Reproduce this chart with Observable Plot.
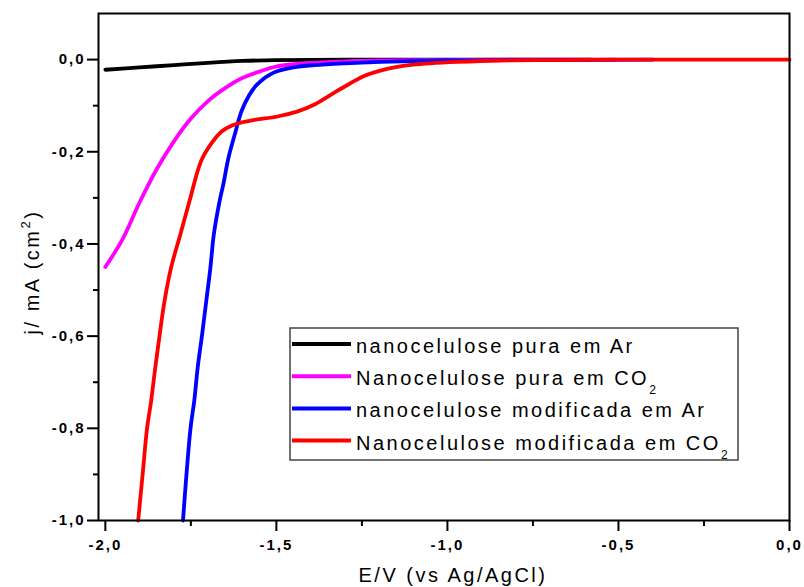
<!DOCTYPE html>
<html><head><meta charset="utf-8">
<script src="https://cdn.jsdelivr.net/npm/d3@7"></script>
<script src="https://cdn.jsdelivr.net/npm/@observablehq/plot@0.6"></script>
<style>
body{margin:0;background:#fff;}
#chart{position:relative;width:804px;height:587px;}
#chart svg{font-family:"Liberation Sans",Arial,sans-serif;}
#chart svg text{font-size:15px !important;font-weight:bold !important;letter-spacing:2px;fill:#000;}
#chart svg text.big{font-size:20px !important;font-weight:normal !important;letter-spacing:2.5px;}
#chart svg text.big tspan.sub{font-size:12px !important;}
#chart svg text.big tspan.sup{font-size:13px !important;}
</style></head><body><div id="chart"></div>
<script>
// ---- data ----
const seriesNames = ["nanocelulose pura em Ar","Nanocelulose pura em CO2","nanocelulose modificada em Ar","Nanocelulose modificada em CO2"];
const legendMain = ["nanocelulose pura em Ar","Nanocelulose pura em CO","nanocelulose modificada em Ar","Nanocelulose modificada em CO"];
const legendSub = ["","2","","2"];
const seriesColors = ["#000000","#ff00ff","#0000ff","#ff0000"];

const pureArE = [-2.0,-1.9,-1.8,-1.7,-1.6,-1.5,-1.3,-1.0,-0.58];
const pureArJ = [-0.022,-0.017,-0.012,-0.007,-0.003,-0.001,0,0,0];

const pureCO2E = [-2.0,-1.95,-1.9,-1.85,-1.8,-1.75,-1.7,-1.65,-1.6,-1.55,-1.5,-1.45,-1.4,-1.3,-1.2,-1.0,-0.8,-0.51];
const pureCO2J = [-0.45,-0.39,-0.31,-0.238,-0.178,-0.128,-0.09,-0.062,-0.04,-0.026,-0.015,-0.01,-0.007,-0.004,-0.002,-0.001,0,0];

const modArE = [-1.773,-1.751,-1.740,-1.730,-1.717,-1.705,-1.693,-1.683,-1.666,-1.655,-1.64,-1.62,-1.602,-1.58,-1.56,-1.54,-1.52,-1.50,-1.45,-1.39,-1.3,-1.196,-1.0,-0.8,-0.4];
const modArJ = [-1.0,-0.8,-0.74,-0.668,-0.596,-0.524,-0.452,-0.38,-0.307,-0.27,-0.213,-0.158,-0.112,-0.078,-0.057,-0.043,-0.033,-0.026,-0.017,-0.012,-0.008,-0.005,-0.002,-0.001,0];

const modCO2E = [-1.904,-1.891,-1.878,-1.866,-1.854,-1.841,-1.827,-1.808,-1.781,-1.754,-1.72,-1.69,-1.66,-1.63,-1.6,-1.56,-1.5,-1.44,-1.39,-1.34,-1.29,-1.245,-1.196,-1.147,-1.1,-1.05,-0.97,-0.85,-0.7,-0.5,-0.25,0.0];
const modCO2J = [-1.0,-0.9,-0.8,-0.74,-0.668,-0.596,-0.524,-0.452,-0.38,-0.307,-0.22,-0.182,-0.156,-0.143,-0.136,-0.13,-0.124,-0.113,-0.098,-0.076,-0.054,-0.036,-0.024,-0.016,-0.011,-0.008,-0.005,-0.002,-0.001,0,0,0];

const xMajorTicks = [-2.0,-1.5,-1.0,-0.5,0.0];
const xMinorTicks = [-1.75,-1.25,-0.75,-0.25];
const yMajorTicks = [0.0,-0.2,-0.4,-0.6,-0.8,-1.0];
const yMinorTicks = [-0.1,-0.3,-0.5,-0.7,-0.9];
const xTitle = "E/V (vs Ag/AgCl)";
const yTitleMain = "j/ mA (cm";
const yTitleSup = "2";
const yTitleEnd = ")";

// ---- build table ----
const seriesE = [pureArE, pureCO2E, modArE, modCO2E];
const seriesJ = [pureArJ, pureCO2J, modArJ, modCO2J];
const rows = [];
seriesNames.forEach((name, i) => {
  seriesE[i].forEach((e, k) => rows.push({name, E: e, j: seriesJ[i][k]}));
});

const fmt = d => d.toFixed(1).replace(".", ",");

const svg = Plot.plot({
  width: 804, height: 587,
  marginLeft: 98, marginRight: 15, marginTop: 13, marginBottom: 67,
  x: {domain: [-2.02, 0]},
  y: {domain: [-1.0, 0.1]},
  color: {domain: seriesNames, range: seriesColors},
  marks: [
    Plot.line(rows, {x: "E", y: "j", z: "name", stroke: "name", curve: "catmull-rom", strokeWidth: 3.8}),
    Plot.axisX({ticks: xMajorTicks, tickSize: 11, tickPadding: 8, tickFormat: fmt, label: null, strokeWidth: 2}),
    Plot.axisX({ticks: xMinorTicks, tickSize: 6, tickFormat: () => "", label: null, strokeWidth: 2}),
    Plot.axisY({ticks: yMajorTicks, tickSize: 11, tickPadding: 2, tickFormat: fmt, label: null, strokeWidth: 2}),
    Plot.axisY({ticks: yMinorTicks, tickSize: 5, tickFormat: () => "", label: null, strokeWidth: 2}),
    Plot.frame({stroke: "#000", strokeWidth: 2})
  ]
});
document.getElementById("chart").appendChild(svg);

const s = d3.select(svg);

// axis titles
s.append("text").attr("class", "big").attr("x", 453).attr("y", 582).attr("text-anchor", "middle").text(xTitle);
const yt = s.append("text").attr("class", "big").attr("transform", "translate(39,272) rotate(-90)")
  .attr("text-anchor", "middle");
yt.append("tspan").text(yTitleMain);
yt.append("tspan").attr("class", "sup").attr("dy", -9).text(yTitleSup);
yt.append("tspan").attr("dy", 9).text(yTitleEnd);

// legend box
const lg = s.append("g").attr("text-anchor", "start");
lg.append("rect").attr("x", 290).attr("y", 328).attr("width", 448).attr("height", 132)
  .attr("fill", "#fff").attr("stroke", "#444").attr("stroke-width", 1.5);
seriesNames.forEach((n, i) => {
  const cy = 344 + i * 32.2;
  lg.append("line").attr("x1", 292).attr("x2", 351).attr("y1", cy).attr("y2", cy)
    .attr("stroke", seriesColors[i]).attr("stroke-width", 4);
  const t = lg.append("text").attr("class", "big").attr("x", 356).attr("y", cy + 9).attr("text-anchor", "start");
  t.append("tspan").text(legendMain[i]);
  if (legendSub[i]) t.append("tspan").attr("class", "sub").attr("dy", 9).text(legendSub[i]);
});
</script></body></html>
